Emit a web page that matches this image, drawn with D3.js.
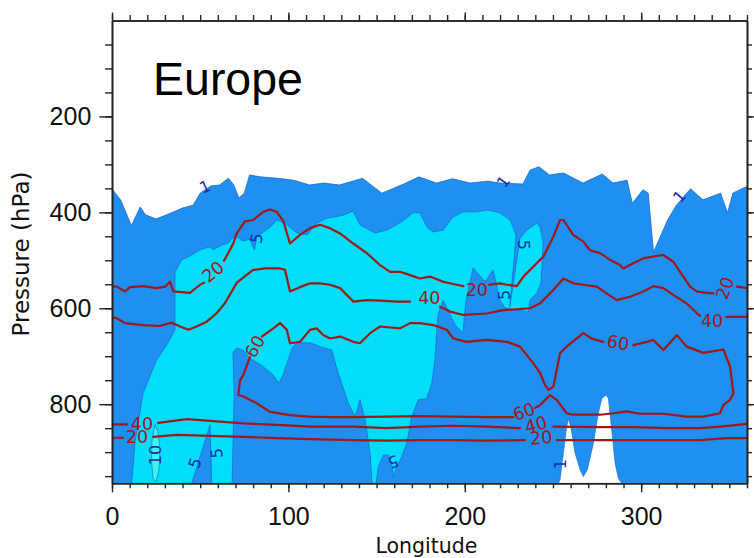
<!DOCTYPE html>
<html>
<head>
<meta charset="utf-8">
<script src="https://cdn.jsdelivr.net/npm/d3@7"></script>
<style>
  html, body { margin: 0; padding: 0; background: #fff; }
  svg { display: block; }
</style>
</head>
<body>
<svg id="chart" width="754" height="558"></svg>
<script>
// Axis extents and tick values
const lonDomain = [0, 360];
const pDomain = [0, 965];
const lonMajor = [0, 100, 200, 300];
const lonMinor = d3.range(0, 361, 10);
const pMajor = [200, 400, 600, 800];
const pMinor = d3.range(50, 951, 50);

// Filled contour bands, [longitude, pressure] pairs
// upper edge of the >= 1 band
const bandOneTop = [[0,351],[5,375],[11,428],[16,389],[19,405],[25,414],[35,399],[40,391],[46,385],[50,360],[56,345],[61,343],[66,329],[69,343],[72,370],[75,360],[78,322],[84,326],[94,329],[103,333],[112,343],[120,339],[129,343],[142,329],[153,360],[159,351],[166,340],[174,326],[184,339],[193,330],[203,339],[213,335],[220,339],[233,341],[237,312],[242,305],[248,322],[256,318],[267,339],[278,320],[284,339],[292,333],[295,381],[301,353],[304,360],[307,483],[315,416],[320,385],[328,351],[335,374],[345,360],[349,401],[352,360],[358,349],[360,347]];

// outline of the >= 5 band
const bandFive = [[11.2,965],[13.0,881],[17.6,777],[25.3,708],[31.8,672],[35.7,645],[35.7,526],[39.5,499],[44.2,491],[49.9,478],[55.6,472],[57.3,478],[62.4,468],[65.8,464],[68.6,453],[70.9,451],[74.3,460],[78.2,456],[79.9,472],[80.8,478],[82.2,451],[89.6,431],[93.6,416],[99.2,426],[104.9,443],[110.6,447],[116.2,422],[121.9,412],[125.3,410],[131.0,406],[136.6,397],[140.6,426],[149.1,443],[155.9,437],[163.3,422],[170.7,401],[174.6,401],[178.6,431],[182.0,441],[187.7,437],[193.3,410],[199.0,399],[206.9,399],[212.6,395],[220.0,401],[225.7,416],[229.1,447],[225.5,598],[231.3,454],[235.3,437],[241.0,422],[242.7,431],[244.4,464],[243.2,547],[241.0,568],[237.0,583],[235.9,608],[231.3,604],[226.0,602],[222.8,599],[220.0,583],[216.0,520],[211.5,545],[204.7,516],[200.7,583],[199.6,624],[199.0,652],[194.5,635],[190.5,604],[187.7,583],[184.8,614],[184.1,645],[183.1,708],[181.3,756],[178.4,788],[173.7,791],[169.9,826],[167.1,881],[164.3,909],[161.4,930],[159.5,951],[158.6,923],[156.7,906],[153.9,906],[151.0,930],[149.7,965],[147.4,965],[146.3,902],[143.5,833],[140.6,791],[137.8,826],[134.0,798],[128.3,736],[124.6,687],[117.9,680],[112.3,672],[104.9,672],[102.1,683],[99.8,708],[97.0,739],[94.7,756],[90.8,737],[85.1,720],[78.2,704],[74.3,687],[70.9,683],[68.6,691],[69.2,791],[68.1,965]];

// pocket below 5 inside that band
const bandFiveGap = [[45.2,965],[55.6,843],[56.5,965]];

// outline of the >= 10 band
const bandTen = [[24.4,843],[22.7,875],[22.4,916],[23.2,954],[24.9,962],[26.6,937],[27.2,895],[26.1,858]];

// no data (below ground)
const surfaceGap = [[253.1,965],[254.0,958],[255.9,902],[257.8,847],[258.7,831],[260.1,847],[262.5,902],[265.4,937],[267.2,951],[269.5,937],[272.9,882],[275.7,819],[277.7,788],[280.1,781],[281.4,788],[283.3,854],[285.2,923],[287.1,955],[289.0,965]];

// Line contours (segments split where labels sit)
const line20Upper = [
  [[0,555],[2.7,555],[7.4,565],[10.2,556],[17.7,554],[25.3,558],[30.1,555],[32.9,545],[34.8,565],[44.2,568],[49.9,551],[52.2,547]],
  [[63.5,501],[68.8,465],[70.7,444],[75.4,419],[80.1,416],[85.8,399],[89.6,394],[93.4,399],[97.2,419],[100.9,465],[106.6,447],[112.3,433],[117.9,426],[123.6,433],[129.3,444],[136.8,465],[144.4,485],[152.0,510],[157.6,524],[163.3,524],[169.0,531],[174.6,538],[180.3,534],[187.9,545],[195.4,551],[199.2,554]],
  [[213.8,551],[220.0,548],[223.8,551],[229.5,554],[233.3,534],[238.7,514],[244.6,492],[250.2,451],[254.0,416],[255.9,416],[261.5,447],[267.2,461],[271.0,479],[276.7,485],[282.3,499],[288.0,510],[289.9,517],[295.5,506],[301.2,496],[306.9,492],[312.6,489],[318.2,503],[323.9,534],[327.7,555],[331.5,565],[337.2,568],[340.9,569]],
  [[354.3,555],[360,558]]
];
const line40Upper = [
  [[0,618],[2.7,621],[7.4,631],[17.7,635],[27.2,637],[33.8,630],[38.6,638],[43.3,645],[48.0,638],[53.7,628],[59.4,610],[64.1,589],[70.7,547],[75.4,533],[80.1,520],[86.8,517],[95.3,517],[98.1,520],[100.9,565],[106.6,556],[112.3,548],[117.9,548],[123.6,551],[129.3,558],[136.8,586],[144.4,583],[152.0,584],[161.4,586],[169.0,586]],
  [[186.0,597],[191.6,607],[199.2,614],[212.4,611],[221.8,604],[237.0,600],[242.6,590],[250.2,562],[255.9,538],[261.5,548],[267.2,551],[274.8,555],[280.4,569],[286.1,583],[293.7,576],[301.2,565],[306.9,554],[312.6,558],[318.2,572],[325.8,590],[331.5,610],[333.4,616]],
  [[348.3,618],[360,618]]
];
const line60Upper = [
  [[84.9,659],[91.5,642],[95.3,631],[99.1,645],[100.9,673],[106.6,670],[112.3,645],[116.1,642],[119.8,656],[123.6,663],[129.3,659],[136.8,670],[140.6,673],[146.3,652],[152.0,638],[163.3,642],[169.0,631],[174.6,631],[182.2,635],[189.8,645],[193.5,663],[201.1,670],[212.4,666],[223.8,670],[231.3,680],[238.9,715],[242.7,735],[245.5,760],[247.4,770],[250.2,764],[254.0,694],[257.8,680],[267.2,652],[271.9,663],[278.5,670]],
  [[295.6,677],[303.2,670],[306.9,666],[312.6,687],[320.3,656],[325.8,680],[335.3,693],[346.6,686],[350.4,722],[352.3,777],[350.4,791],[346.6,802],[344.7,819],[335.3,826],[325.8,826],[312.6,820],[299.3,820],[291.8,815],[284.3,819],[276.7,822],[261.5,822],[257.8,819],[252.1,791],[248.3,781],[242.7,802],[239.8,808]],
  [[227.5,827],[212.4,827],[193.5,826],[174.6,825],[155.7,826],[136.8,827],[123.6,827],[112.3,826],[100.9,823],[89.6,816],[82.0,798],[74.5,784],[71.6,781],[72.6,750],[74.5,739],[78.2,702]]
];
const line40Lower = [
  [[0,842],[8.5,842]],
  [[26.1,839],[42.4,831],[55.6,835],[74.5,840],[93.4,843],[112.3,847],[136.8,847],[155.7,850],[174.6,847],[193.5,845],[212.4,847],[231.3,850]],
  [[250.2,847],[276.7,848],[295.6,848],[314.6,850],[333.5,850],[344.9,847],[360,841]]
];
const line20Lower = [
  [[0,870],[6.2,870]],
  [[23.4,868],[36.7,864],[55.6,866],[74.5,868],[93.4,871],[112.3,873],[136.8,875],[155.7,876],[174.6,875],[193.5,875],[212.4,876],[234.1,875]],
  [[252.1,875],[276.7,875],[295.6,875],[314.6,875],[333.5,875],[348.5,871],[360,871]]
];

// Labels on the line contours: [text, lon, p, angle]
const lineLabels = [
  ["20", 57.3, 524, -40], ["20", 206.8, 562, 0], ["20", 347.6, 558, -70],
  ["40", 179.9, 579, 0], ["40", 340.2, 627, 0],
  ["60", 81.1, 680, -60], ["60", 286.9, 672, 10], ["60", 233.6, 816, -20],
  ["40", 17.0, 841, 0], ["40", 240.4, 843, -15],
  ["20", 14.2, 869, 0], ["20", 243.3, 870, -5]
];
// Labels on the band edges
const bandLabels = [
  ["1", 52.7, 347, -25], ["1", 221.9, 336, -55], ["1", 321.8, 367, -50], ["1", 254.0, 925, -90],
  ["5", 82.0, 454, -80], ["5", 233.2, 468, 90], ["5", 222.8, 572, -90],
  ["10", 24.4, 906, -90], ["5", 47.1, 923, -70], ["5", 59.4, 902, -95], ["5", 159.3, 920, 160]
];

const svg = d3.select("#chart");
const x = d3.scaleLinear().domain(lonDomain).range([112, 747]);
const y = d3.scaleLinear().domain(pDomain).range([20.5, 483.3]);

const fillOne = "#2090f0", fillFive = "#00defa", fillTen = "#3ef2ee";
const edgeBlue = "#1b66cf", lineRed = "#a01818", labelBlue = "#1c2aa0";

svg.append("clipPath").attr("id", "plotClip")
  .append("rect").attr("x", x(0)).attr("y", y(0))
  .attr("width", x(360) - x(0)).attr("height", y(965) - y(0));

const plot = svg.append("g").attr("clip-path", "url(#plotClip)");
const path = d3.line().x(d => x(d[0])).y(d => y(d[1]));

// >= 1 band
plot.append("path")
  .attr("d", path(bandOneTop.concat([[360, 965], [0, 965]])) + "Z")
  .attr("fill", fillOne);
plot.append("path").attr("d", path(bandOneTop))
  .attr("fill", "none").attr("stroke", edgeBlue).attr("stroke-width", 0.8);

// >= 5 band
plot.append("path").attr("d", path(bandFive) + "Z")
  .attr("fill", fillFive).attr("stroke", edgeBlue).attr("stroke-width", 0.7);
plot.append("path").attr("d", path(bandFiveGap) + "Z")
  .attr("fill", fillOne).attr("stroke", edgeBlue).attr("stroke-width", 0.7);

// >= 10 band
plot.append("path").attr("d", path(bandTen) + "Z")
  .attr("fill", fillTen).attr("stroke", edgeBlue).attr("stroke-width", 0.6);

// missing data near the surface
plot.append("path").attr("d", path(surfaceGap) + "Z")
  .attr("fill", "#ffffff").attr("stroke", edgeBlue).attr("stroke-width", 0.6);

// red line contours
[line20Upper, line40Upper, line60Upper, line40Lower, line20Lower].forEach(segs => {
  segs.forEach(seg => {
    plot.append("path").attr("d", path(seg))
      .attr("fill", "none").attr("stroke", lineRed)
      .attr("stroke-width", 2.2).attr("stroke-linejoin", "round").attr("stroke-linecap", "round");
  });
});

function drawLabels(list, color, size) {
  plot.selectAll(null).data(list).enter().append("text")
    .attr("transform", d => `translate(${x(d[1])},${y(d[2])}) rotate(${d[3]})`)
    .attr("text-anchor", "middle").attr("dominant-baseline", "central")
    .attr("font-family", "DejaVu Sans, sans-serif").attr("font-size", size)
    .attr("fill", color).text(d => d[0]);
}
drawLabels(lineLabels, lineRed, 17.5);
drawLabels(bandLabels, labelBlue, 16);

// Axes
const axisColor = "#222";
function styleAxis(g) {
  g.selectAll("path.domain").attr("stroke", axisColor).attr("stroke-width", 1.6);
  g.selectAll(".tick line").attr("stroke", axisColor).attr("stroke-width", 1.4);
  g.selectAll(".tick text").attr("fill", "#111")
    .attr("font-family", "Liberation Sans, Arial, sans-serif").attr("font-size", 25);
}
const yBottom = y(965), yTop = y(0), xLeft = x(0), xRight = x(360);

svg.append("g").attr("transform", `translate(0,${yBottom})`)
  .call(d3.axisBottom(x).tickValues(lonMinor).tickSize(5).tickSizeOuter(0).tickFormat(""))
  .call(styleAxis);
svg.append("g").attr("transform", `translate(0,${yBottom})`)
  .call(d3.axisBottom(x).tickValues(lonMajor).tickSize(9).tickSizeOuter(0).tickPadding(15).tickFormat(d3.format("d")))
  .call(styleAxis);
svg.append("g").attr("transform", `translate(0,${yTop})`)
  .call(d3.axisTop(x).tickValues(lonMinor).tickSize(5.5).tickSizeOuter(0).tickFormat(""))
  .call(styleAxis);
svg.append("g").attr("transform", `translate(0,${yTop})`)
  .call(d3.axisTop(x).tickValues(lonMajor).tickSize(8).tickSizeOuter(0).tickFormat(""))
  .call(styleAxis);
svg.append("g").attr("transform", `translate(${xLeft},0)`)
  .call(d3.axisLeft(y).tickValues(pMinor).tickSize(7).tickSizeOuter(0).tickFormat(""))
  .call(styleAxis);
svg.append("g").attr("transform", `translate(${xLeft},0)`)
  .call(d3.axisLeft(y).tickValues(pMajor).tickSize(12.7).tickSizeOuter(0).tickPadding(8).tickFormat(d3.format("d")))
  .call(styleAxis);
svg.append("g").attr("transform", `translate(${xRight},0)`)
  .call(d3.axisRight(y).tickValues(pMinor).tickSize(5).tickSizeOuter(0).tickFormat(""))
  .call(styleAxis);
svg.append("g").attr("transform", `translate(${xRight},0)`)
  .call(d3.axisRight(y).tickValues(pMajor).tickSize(10).tickSizeOuter(0).tickFormat(""))
  .call(styleAxis);

// Titles
svg.append("text").attr("x", 426.5).attr("y", 552.5).attr("text-anchor", "middle")
  .attr("font-family", "DejaVu Sans, sans-serif").attr("font-size", 20.5).attr("fill", "#111")
  .text("Longitude");
svg.append("text").attr("transform", "translate(28.5,254) rotate(-90)").attr("text-anchor", "middle")
  .attr("font-family", "DejaVu Sans, sans-serif").attr("font-size", 23).attr("fill", "#111")
  .text("Pressure (hPa)");
svg.append("text").attr("x", 153).attr("y", 95)
  .attr("font-family", "Liberation Sans, Arial, sans-serif").attr("font-size", 46.5).attr("fill", "#000")
  .text("Europe");
</script>
</body>
</html>
